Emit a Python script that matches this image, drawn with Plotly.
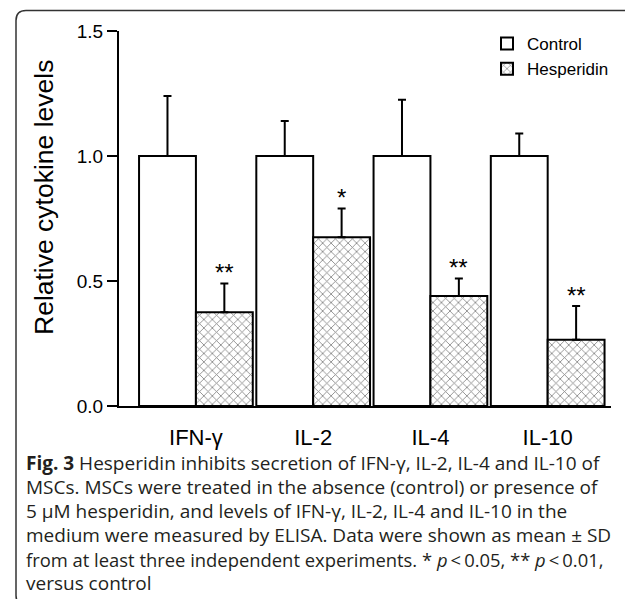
import plotly.graph_objects as go

categories = ["IFN-γ", "IL-2", "IL-4", "IL-10"]
control = [1.0, 1.0, 1.0, 1.0]
control_sd = [0.24, 0.14, 0.225, 0.09]
hesperidin = [0.375, 0.675, 0.44, 0.265]
hesperidin_sd = [0.115, 0.115, 0.07, 0.135]
stars = ["**", "*", "**", "**"]
y_ticks = [0.0, 0.5, 1.0, 1.5]
caption_lines = [
    "<b>Fig. 3</b> Hesperidin inhibits secretion of IFN-γ, IL-2, IL-4 and IL-10 of",
    "MSCs. MSCs were treated in the absence (control) or presence of",
    "5 μM hesperidin, and levels of IFN-γ, IL-2, IL-4 and IL-10 in the",
    "medium were measured by ELISA. Data were shown as mean ± SD",
    "from at least three independent experiments. * <i>p</i>\u2009&lt;\u20090.05, ** <i>p</i>\u2009&lt;\u20090.01,",
    "versus control",
]

W, H = 633, 599
L, R, T, B = 111, 30, 23, 201
PW, PH = W - L - R, H - T - B

def px_x(px):
    return (px - L) / PW

def px_y(py):
    return (H - B - py) / PH

xs = list(range(len(categories)))
bargap = 0.03
bw = (1 - bargap) / 2

fig = go.Figure()
fig.add_trace(go.Bar(
    x=xs, y=control, name="Control",
    marker=dict(color="white", line=dict(color="black", width=2)),
    error_y=dict(type="data", array=control_sd, arrayminus=[0]*4, symmetric=False,
                 color="black", thickness=2, width=4),
))
fig.add_trace(go.Bar(
    x=xs, y=hesperidin, name="Hesperidin",
    marker=dict(color="white", line=dict(color="black", width=2),
                pattern=dict(shape="x", fgcolor="black", bgcolor="white", size=6, solidity=0.25)),
    error_y=dict(type="data", array=hesperidin_sd, arrayminus=[0]*4, symmetric=False,
                 color="black", thickness=2, width=4),
))

annotations = []
for i, s in enumerate(stars):
    annotations.append(dict(
        x=xs[i] + bw / 2, y=hesperidin[i] + hesperidin_sd[i], xref="x", yref="y",
        text=s, showarrow=False, yanchor="middle", yshift=11,
        font=dict(size=24, color="black", family="Liberation Sans"),
    ))

# y-axis title
annotations.append(dict(
    x=px_x(36), y=px_y(190), xref="paper", yref="paper",
    text="Relative cytokine levels", textangle=-90, showarrow=False,
    xanchor="center", yanchor="middle",
    font=dict(size=26.5, color="black", family="Liberation Sans"),
))

cap_y = [455, 479, 503, 527, 551, 575]
for i, (line, cy) in enumerate(zip(caption_lines, cap_y)):
    annotations.append(dict(
        x=px_x(16), y=px_y(cy), xref="paper", yref="paper",
        text=line, showarrow=False, xanchor="left", yanchor="middle",
        font=dict(size=18.4 if i == 4 else 19, color="#231f20", family="Open Sans"),
    ))

# rounded frame (open at right side)
x0, y0, y1, r = 8, 2.5, 597.5, 10
path = (f"M {px_x(W + 20)},{px_y(y0)} L {px_x(x0 + r)},{px_y(y0)} "
        f"Q {px_x(x0)},{px_y(y0)} {px_x(x0)},{px_y(y0 + r)} "
        f"L {px_x(x0)},{px_y(y1 - r)} "
        f"Q {px_x(x0)},{px_y(y1)} {px_x(x0 + r)},{px_y(y1)} "
        f"L {px_x(W + 20)},{px_y(y1)}")
shapes = [dict(type="path", path=path, xref="paper", yref="paper",
               line=dict(color="#333", width=1.5))]

fig.update_layout(
    width=W, height=H,
    margin=dict(l=L, r=R, t=T, b=B),
    paper_bgcolor="white", plot_bgcolor="white",
    barmode="group", bargap=bargap, bargroupgap=0,
    font=dict(family="Liberation Sans", color="black"),
    showlegend=True,
    legend=dict(x=px_x(479), y=px_y(18), xanchor="left", yanchor="top",
                font=dict(size=17, family="Liberation Sans"), bgcolor="rgba(0,0,0,0)",
                tracegroupgap=0, itemsizing="constant"),
    annotations=annotations,
    shapes=shapes,
)
fig.update_xaxes(
    range=[-0.656, 3.54], tickvals=xs, ticktext=categories,
    showline=True, linecolor="black", linewidth=2, ticks="",
    showgrid=False, zeroline=False, ticklabelstandoff=11,
    tickfont=dict(size=22, family="Liberation Sans"),
)
fig.update_yaxes(
    range=[0, 1.5], tickvals=y_ticks, ticktext=[f"{v:.1f}" for v in y_ticks],
    showline=True, linecolor="black", linewidth=2, ticks="outside", ticklen=10,
    tickwidth=2, tickcolor="black", showgrid=False, zeroline=False,
    tickfont=dict(size=19, family="Liberation Sans"),
)

fig.write_html("out.html")
